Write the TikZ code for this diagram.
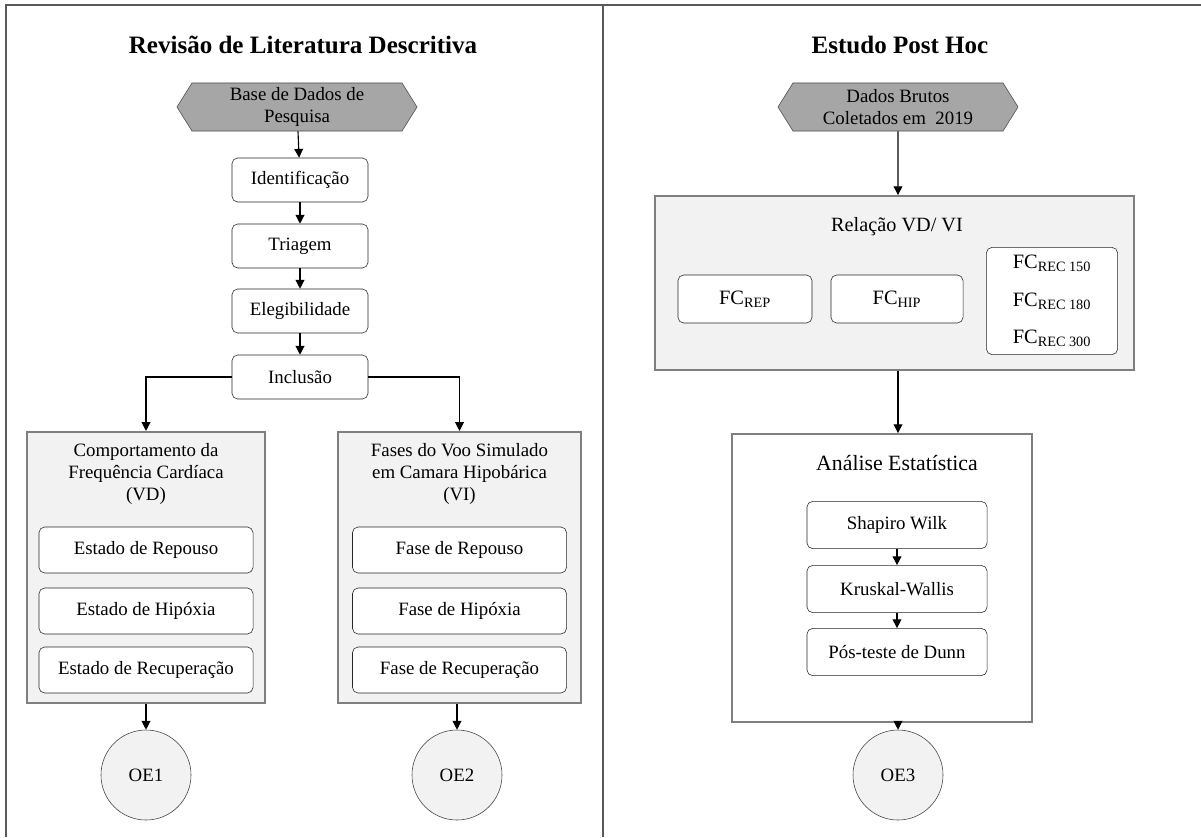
\documentclass[tikz,border=0pt]{standalone}
\usepackage{fontspec}
\setmainfont{Liberation Serif}
\usetikzlibrary{positioning,arrows.meta,shapes.symbols}
\definecolor{frameG}{HTML}{595959}
\definecolor{grpG}{HTML}{7F7F7F}
\definecolor{grpL}{HTML}{F2F2F2}
\definecolor{hexG}{HTML}{A6A6A6}

\begin{document}
\begin{tikzpicture}[x=0.025cm, y=-0.025cm,
      font=\fontsize{13.4}{15.6}\selectfont,
      box/.style={draw=black!85, rounded corners=4pt, fill=white, align=center,
                  minimum width=3.4cm, minimum height=1.1cm, inner sep=2pt},
      ibox/.style={box, minimum width=5.35cm, minimum height=1.15cm},
      grp/.style={draw=grpG, line width=1.3pt, fill=grpL, inner sep=0pt},
      hexa/.style={signal, signal to=west and east, signal pointer angle=116,
                   draw=black!70, fill=hexG, align=center, minimum width=6cm,
                   minimum height=1.2cm, inner sep=1pt},
      oe/.style={circle, draw=black!75, fill=grpL, minimum size=2.25cm, inner sep=0pt},
      arr/.style={-{Triangle[length=2.2mm,width=2.2mm]}, line width=0.8pt},
      ttl/.style={font=\fontsize{17.8}{20}\selectfont\bfseries},
      fcbox/.style={box, font=\fontsize{14.5}{17}\selectfont, minimum height=1.2cm}
    ]
    \useasboundingbox (0,0) rectangle (1201,837);
    % ------------- Frame -------------
    \draw[frameG, line width=1.4pt] (6,837) -- (6,5) -- (1201,5);
    \draw[frameG, line width=1.1pt] (603,5) -- (603,837);
    % ------------- Left: revisao -------------
    \begin{scope}
      \node[ttl] (t1) at (303,45) {Revisão de Literatura Descritiva};
      \node[hexa] (base) at (297,107) {Base de Dados de\\Pesquisa};
      \node[box] (ident) at (300,180) {Identificação};
      \node[box] (triag) at (300,246) {Triagem};
      \node[box] (eleg) at (300,311) {Elegibilidade};
      \node[box] (incl) at (300,377) {Inclusão};
      \draw[arr] (base) -- (ident);
      \draw[arr] (ident) -- (triag);
      \draw[arr] (triag) -- (eleg);
      \draw[arr] (eleg) -- (incl);
      % VD
      \node[grp, minimum width=5.95cm, minimum height=6.78cm] (vd) at (146,567.5) {};
      \node[align=center] (vdt) at (146,474) {Comportamento da\\Frequência Cardíaca\\(VD)};
      \node[ibox] (vd1) at (146,550) {Estado de Repouso};
      \node[ibox] (vd2) at (146,611) {Estado de Hipóxia};
      \node[ibox] (vd3) at (146,670) {Estado de Recuperação};
      % VI
      \node[grp, minimum width=6.07cm, minimum height=6.78cm] (vi) at (459.5,567.5) {};
      \node[align=center] (vit) at (459.5,474) {Fases do Voo Simulado\\em Camara Hipobárica\\(VI)};
      \node[ibox] (vi1) at (459.5,550) {Fase de Repouso};
      \node[ibox] (vi2) at (459.5,611) {Fase de Hipóxia};
      \node[ibox] (vi3) at (459.5,670) {Fase de Recuperação};
      \draw[arr] (incl.west) -| (vd.north);
      \draw[arr] (incl.east) -| (vi.north);
      \node[oe] (oe1) at (146,775) {OE1};
      \node[oe] (oe2) at (457,775) {OE2};
      \draw[arr] (vd) -- (oe1);
      \draw[arr] (vi.south -| oe2) -- (oe2);
    \end{scope}
    % ------------- Right: post hoc -------------
    \begin{scope}
      \node[ttl] (t2) at (900,45) {Estudo Post Hoc};
      \node[hexa] (dados) at (898,107) {Dados Brutos\\Coletados em\ \ 2019};
      \node[grp, minimum width=11.98cm, minimum height=4.35cm] (rel) at (894.5,283) {};
      \node[font=\fontsize{14.4}{17}\selectfont] (relt) at (897,227) {Relação VD/ VI};
      \node[fcbox, minimum width=3.35cm] (fcrep) at (745,299) {FC\textsubscript{REP}};
      \node[fcbox, minimum width=3.3cm] (fchip) at (897,299) {FC\textsubscript{HIP}};
      \node[fcbox, minimum width=3.28cm, minimum height=2.68cm,
            font=\fontsize{14.5}{26.5}\selectfont] (fcrec) at (1052,301)
            {FC\textsubscript{REC 150}\\FC\textsubscript{REC 180}\\FC\textsubscript{REC 300}};
      \draw[arr] (dados) -- (dados |- rel.north);
      % analise
      \node[grp, fill=white, minimum width=7.5cm, minimum height=7.2cm] (ana) at (882,578) {};
      \node[font=\fontsize{15.5}{18}\selectfont] (anat) at (897,463) {Análise Estatística};
      \node[box, minimum width=4.5cm, minimum height=1.18cm] (shap) at (897,525) {Shapiro Wilk};
      \node[box, minimum width=4.5cm, minimum height=1.18cm] (krus) at (897,589) {Kruskal-Wallis};
      \node[box, minimum width=4.5cm, minimum height=1.18cm] (dunn) at (897,652) {Pós-teste de Dunn};
      \draw[arr] (shap) -- (krus);
      \draw[arr] (krus) -- (dunn);
      \draw[arr] (rel.south -| dados) -- (ana.north -| dados);
      \node[oe] (oe3) at (898,775) {OE3};
      \draw[arr] (ana.south -| oe3) -- (oe3);
    \end{scope}
  \end{tikzpicture}
\end{document}
